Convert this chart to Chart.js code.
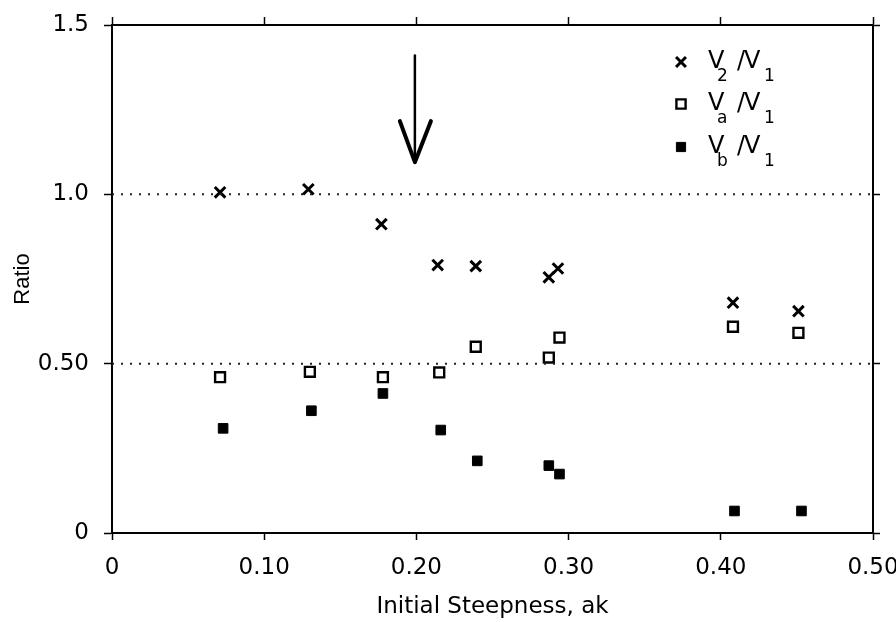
<!DOCTYPE html>
<html>
<head>
<meta charset="utf-8">
<script src="https://cdn.jsdelivr.net/npm/chart.js@4.4.1/dist/chart.umd.min.js"></script>
<style>
  html, body { margin: 0; padding: 0; background: #fff; overflow: hidden; }
  #wrap { width: 896px; height: 622px; position: relative; }
</style>
</head>
<body>
<div id="wrap"><canvas id="c"></canvas></div>
<script>
// Initial steepness ak for each run
const steepV2 = [0.071, 0.129, 0.177, 0.214, 0.239, 0.287, 0.293, 0.408, 0.451];
const steepVa = [0.071, 0.130, 0.178, 0.215, 0.239, 0.287, 0.294, 0.408, 0.451];
const steepVb = [0.073, 0.131, 0.178, 0.216, 0.240, 0.287, 0.294, 0.409, 0.453];
// Velocity ratios
const ratioV2 = [1.006, 1.015, 0.912, 0.791, 0.788, 0.755, 0.781, 0.680, 0.655];
const ratioVa = [0.460, 0.476, 0.460, 0.474, 0.550, 0.518, 0.577, 0.609, 0.591];
const ratioVb = [0.309, 0.361, 0.412, 0.304, 0.213, 0.199, 0.174, 0.065, 0.065];
// Reference levels drawn dotted
const refLevels = [1.0, 0.5];
// Tick labels
const xTickLabels = ['0', '0.10', '0.20', '0.30', '0.40', '0.50'];
const yTickLabels = ['0', '0.50', '1.0', '1.5'];
// Arrow marking the breaking onset
const arrowX = 0.199;
const arrowY = [1.41, 1.095];

const FONT = "'DejaVu Sans', sans-serif";
const toPts = (xs, ys) => xs.map((x, i) => ({ x: x, y: ys[i] }));

const dotted = refLevels.map(v => ({
  type: 'line',
  data: [{ x: 0, y: v }, { x: 0.5, y: v }],
  borderColor: '#222',
  borderWidth: 2,
  borderDash: [2, 7],
  pointRadius: 0,
  showLine: true,
  fill: false
}));

const series = [
  { label: 'V2/V1', data: toPts(steepV2, ratioV2), pointStyle: 'crossRot', pointRadius: 7.5,
    borderColor: '#000', backgroundColor: '#000', pointBorderWidth: 3 },
  { label: 'Va/V1', data: toPts(steepVa, ratioVa), pointStyle: 'rect', pointRadius: 7,
    borderColor: '#000', backgroundColor: '#fff', pointBorderWidth: 2.4 },
  { label: 'Vb/V1', data: toPts(steepVb, ratioVb), pointStyle: 'rect', pointRadius: 6.8,
    borderColor: '#000', backgroundColor: '#000', pointBorderWidth: 1 }
].map(d => Object.assign({ type: 'scatter', pointHoverRadius: d.pointRadius }, d));

// Legend entries: series index and numerator subscript
const legendRows = [
  { ds: 0, sub: '2' },
  { ds: 1, sub: 'a' },
  { ds: 2, sub: 'b' }
];

const decorPlugin = {
  id: 'decor',
  afterDatasetsDraw(chart) {
    const ctx = chart.ctx;
    const xs = chart.scales.x, ys = chart.scales.y;
    const a = chart.chartArea;
    // arrow
    const ax = xs.getPixelForValue(arrowX);
    const y0 = ys.getPixelForValue(arrowY[0]);
    const y1 = ys.getPixelForValue(arrowY[1]);
    ctx.save();
    ctx.strokeStyle = '#000';
    ctx.lineCap = 'round';
    ctx.lineJoin = 'round';
    ctx.lineWidth = 2.5;
    ctx.beginPath();
    ctx.moveTo(ax, y0);
    ctx.lineTo(ax, y1);
    ctx.stroke();
    ctx.lineWidth = 4;
    ctx.beginPath();
    ctx.moveTo(ax - 15, y1 - 41);
    ctx.lineTo(ax, y1);
    ctx.lineTo(ax + 16, y1 - 41);
    ctx.stroke();
    ctx.restore();

    // legend
    const mx = a.left + 569;
    const tx = a.left + 596;
    const rowY = [a.top + 37, a.top + 79, a.top + 122];
    ctx.save();
    ctx.textBaseline = 'alphabetic';
    ctx.textAlign = 'left';
    legendRows.forEach((r, i) => {
      const ds = chart.data.datasets[dotted.length + r.ds];
      const y = rowY[i];
      ctx.save();
      ctx.strokeStyle = ds.borderColor;
      ctx.fillStyle = ds.backgroundColor;
      ctx.lineWidth = ds.pointBorderWidth;
      Chart.helpers.drawPoint(ctx, {
        pointStyle: ds.pointStyle,
        radius: ds.pointStyle === 'crossRot' ? 7 : 6.5,
        rotation: 0,
        borderWidth: ds.pointBorderWidth
      }, mx, y);
      ctx.restore();
      ctx.fillStyle = '#000';
      ctx.font = '24px ' + FONT;
      ctx.fillText('V', tx, y + 6);
      ctx.fillText('/', tx + 29, y + 6);
      ctx.fillText('V', tx + 36, y + 6);
      ctx.font = '17px ' + FONT;
      ctx.fillText(r.sub, tx + 9, y + 19);
      ctx.fillText('1', tx + 56, y + 19);
    });
    ctx.restore();
  }
};

const axisBorder = { display: true, color: '#000', width: 2 };
const noPadX = s => { s.paddingLeft = 0; s.paddingRight = 0; };
const noPadY = s => { s.paddingTop = 0; s.paddingBottom = 0; };

new Chart(document.getElementById('c'), {
  type: 'scatter',
  data: { datasets: dotted.concat(series) },
  plugins: [decorPlugin],
  options: {
    responsive: true,
    maintainAspectRatio: false,
    animation: false,
    layout: { padding: 0 },
    plugins: { legend: { display: false }, tooltip: { enabled: false } },
    scales: {
      x: {
        type: 'linear', position: 'bottom', min: 0, max: 0.5,
        afterFit: s => { s.height = 89; noPadX(s); },
        border: axisBorder,
        grid: { drawOnChartArea: false, drawTicks: true, tickLength: 7, tickWidth: 1.5, tickColor: '#000' },
        ticks: {
          stepSize: 0.1, padding: 14, color: '#000', maxRotation: 0,
          font: { family: FONT, size: 23 },
          callback: (v, i) => xTickLabels[i]
        },
        title: { display: true, text: 'Initial Steepness, ak', color: '#000',
          font: { family: FONT, size: 23 }, padding: { top: 0, bottom: 1 } }
      },
      xTop: {
        type: 'linear', position: 'top', min: 0, max: 0.5,
        afterFit: s => { s.height = 25; noPadX(s); },
        border: axisBorder,
        grid: { drawOnChartArea: false, drawTicks: true, tickLength: 8, tickWidth: 1.5, tickColor: '#000' },
        ticks: { stepSize: 0.1, display: false }
      },
      y: {
        type: 'linear', position: 'left', min: 0, max: 1.5,
        afterFit: s => { s.width = 112; noPadY(s); },
        border: axisBorder,
        grid: { drawOnChartArea: false, drawTicks: true, tickLength: 8, tickWidth: 1.5, tickColor: '#000' },
        ticks: {
          stepSize: 0.5, padding: 15, color: '#000',
          font: { family: FONT, size: 23 },
          callback: (v, i) => yTickLabels[i]
        },
        title: { display: true, text: 'Ratio', color: '#000',
          font: { family: "'Liberation Sans', Arial, sans-serif", size: 22 }, padding: { top: 10, bottom: 0 } }
      },
      yRight: {
        type: 'linear', position: 'right', min: 0, max: 1.5,
        afterFit: s => { s.width = 23; noPadY(s); },
        border: axisBorder,
        grid: { drawOnChartArea: false, drawTicks: true, tickLength: 7, tickWidth: 1.5, tickColor: '#000' },
        ticks: { stepSize: 0.5, display: false }
      }
    }
  }
});
</script>
</body>
</html>
